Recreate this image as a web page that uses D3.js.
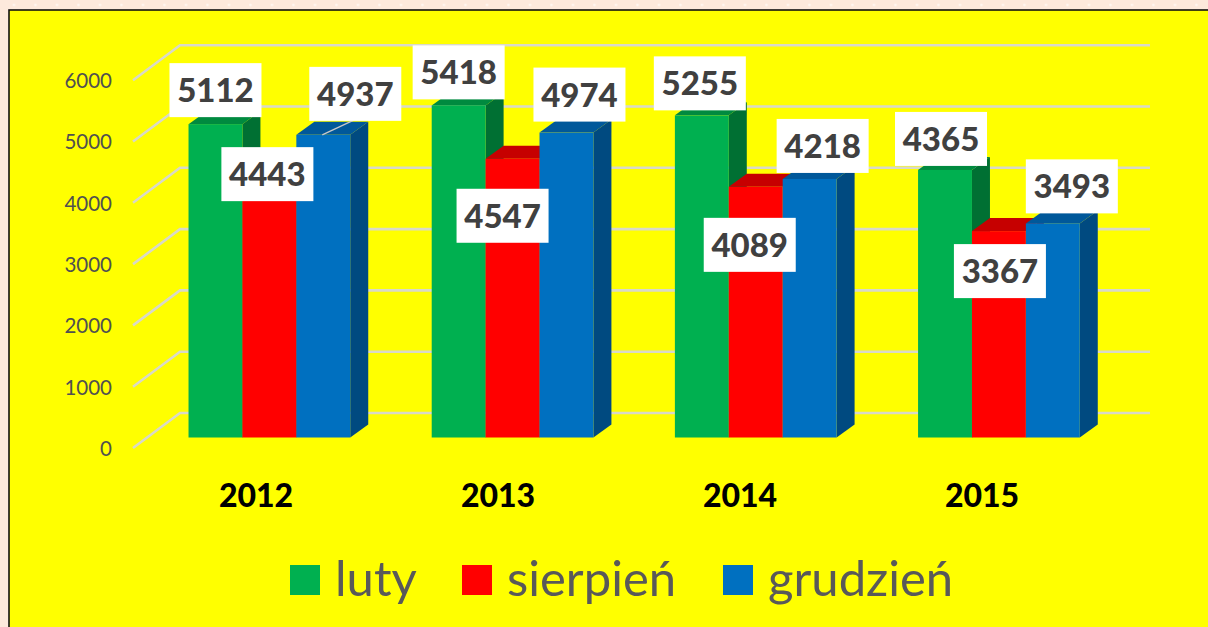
<!DOCTYPE html>
<html><head><meta charset="utf-8">
<script src="https://cdn.jsdelivr.net/npm/d3@7/dist/d3.min.js"></script>
<style>html,body{margin:0;padding:0;background:#fde9dc;overflow:hidden}svg{display:block}</style>
</head><body><svg id="c" width="1208" height="627"></svg>
<script>
const years = ["2012","2013","2014","2015"];
const seriesNames = ["luty","sierpień","grudzień"];
const luty = [5112,5418,5255,4365];
const sierpien = [4443,4547,4089,3367];
const grudzien = [4937,4974,4218,3493];
const yTicks = [0,1000,2000,3000,4000,5000,6000];
const seriesValues = [luty,sierpien,grudzien];
const frontColors = ["#00B050","#FF0000","#0070C0"];
const topColors = ["#008A3F","#C60000","#00589A"];
const sideColors = ["#007033","#A80000","#004A80"];
// label box offsets from each bar's top-centre: [series][year] => [dx, dy]
const labelOffsets = [
 [[0,-34],[0,-33],[-2,-32],[-4,-31]],
 [[-2,9],[-10,57],[-6,58],[1,40]],
 [[32,-41],[13,-38],[13,-33],[19,-37]]
];
const fontFam = "Lato, 'Open Sans', sans-serif";
const svg = d3.select("#c");

// background dotted strip
const defs = svg.append("defs");
const pat = defs.append("pattern").attr("id","dots").attr("width",21.5).attr("height",20.5).attr("patternUnits","userSpaceOnUse");
pat.append("circle").attr("cx",14).attr("cy",5).attr("r",1.4).attr("fill","#fff6f0");
svg.append("rect").attr("width",1208).attr("height",627).attr("fill","#fde9dc");
svg.append("rect").attr("width",1208).attr("height",627).attr("fill","url(#dots)");
svg.append("rect").attr("x",9).attr("y",10).attr("width",1240).attr("height",660).attr("fill","#ffff00").attr("stroke","#111").attr("stroke-width",1.6);

// scales: front plane
const y = d3.scaleLinear().domain([0,6000]).range([437.5,69.7]);
const depth = {dx:18, dy:13};
const x0 = d3.scaleBand().domain(years).range([148.4,1119.9]).paddingInner(0.335).paddingOuter(0.165);
const x1 = d3.scaleBand().domain(seriesNames).range([0,x0.bandwidth()]);

// gridlines
const grid = svg.append("g").attr("fill","none").attr("stroke","#d9d9c8").attr("stroke-width",2.6);
const axisX = 133, wallX = 180, wallEnd = 1150;
yTicks.forEach(t=>{
  const yy = y(t) - 24.5;
  grid.append("path").attr("d",`M${axisX},${yy+35}L${wallX},${yy}L${wallEnd},${yy}`);
});

// y axis labels
const axis = d3.axisLeft(d3.scaleLinear().domain([0,6000]).range([449,81])).tickValues(yTicks).tickSize(0).tickPadding(0).tickFormat(d3.format("d"));
const ag = svg.append("g").attr("transform","translate(112,0)").call(axis);
ag.select(".domain").remove();
ag.selectAll("text").attr("font-family",fontFam).attr("font-size",20.5).attr("fill","#505050");

// bars
years.forEach((yr,i)=>{
  seriesNames.forEach((s,j)=>{
    const v = seriesValues[j][i];
    const xl = x0(yr)+x1(s), w = x1.bandwidth(), t = y(v), b = y(0);
    const g = svg.append("g");
    g.append("path").attr("fill",sideColors[j])
      .attr("d",`M${xl+w},${t}L${xl+w+depth.dx},${t-depth.dy}L${xl+w+depth.dx},${b-depth.dy}L${xl+w},${b}Z`);
    g.append("path").attr("fill",topColors[j])
      .attr("d",`M${xl},${t}L${xl+depth.dx},${t-depth.dy}L${xl+w+depth.dx},${t-depth.dy}L${xl+w},${t}Z`);
    g.append("rect").attr("x",xl).attr("y",t).attr("width",w).attr("height",b-t).attr("fill",frontColors[j]);
  });
});

// leader line for first grudzień label
{
  const xl = x0(years[0])+x1(seriesNames[2]), w = x1.bandwidth();
  svg.append("line").attr("x1",xl+w/2-1).attr("y1",y(grudzien[0])).attr("x2",xl+w/2+31).attr("y2",y(grudzien[0])-15)
    .attr("stroke","#c8c8c8").attr("stroke-width",1.3);
}

// data labels
const bw = 92, bh = 54;
seriesNames.forEach((s,j)=>{
  years.forEach((yr,i)=>{
    const v = seriesValues[j][i];
    const cx = x0(yr)+x1(s)+x1.bandwidth()/2 + labelOffsets[j][i][0];
    const cy = y(v) + labelOffsets[j][i][1];
    svg.append("rect").attr("x",cx-bw/2).attr("y",cy-bh/2).attr("width",bw).attr("height",bh).attr("fill","#fff");
    svg.append("text").attr("x",cx).attr("y",cy+12).attr("text-anchor","middle")
      .attr("font-family",fontFam).attr("font-weight",900).attr("font-size",33).attr("fill","#404040").text(v);
  });
});

// category labels
const catCenters = d3.scalePoint().domain(years).range([256,982]);
years.forEach(yr=>{
  svg.append("text").attr("x",catCenters(yr)).attr("y",507).attr("text-anchor","middle")
    .attr("font-family",fontFam).attr("font-weight",900).attr("font-size",32).attr("fill","#000").text(yr);
});

// legend
const legendX = d3.scaleOrdinal().domain(seriesNames).range([290,462,723]);
seriesNames.forEach((s,j)=>{
  svg.append("rect").attr("x",legendX(s)).attr("y",565).attr("width",30).attr("height",30).attr("fill",frontColors[j]);
  svg.append("text").attr("x",legendX(s)+45).attr("y",596)
    .attr("font-family",fontFam).attr("font-size",49).attr("fill","#595959").text(s);
});
</script></body></html>
